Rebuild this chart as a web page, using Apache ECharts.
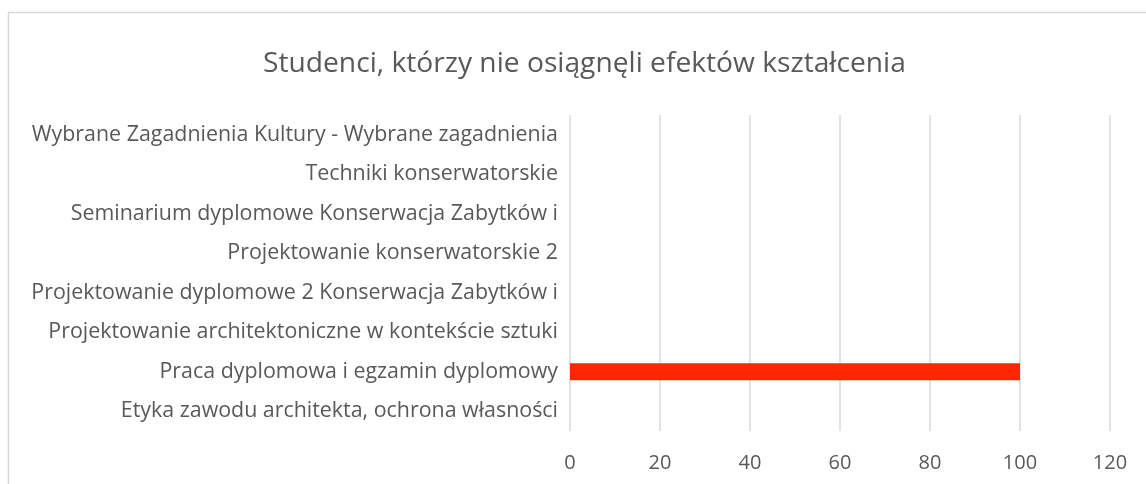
<!DOCTYPE html>
<html>
<head>
<meta charset="utf-8">
<script src="https://cdn.jsdelivr.net/npm/echarts@6/dist/echarts.min.js"></script>
<style>
  html, body { margin: 0; padding: 0; background: #fff; }
  #chart { width: 1146px; height: 484px; }
</style>
</head>
<body>
<div id="chart"></div>
<script>
// kategorie od dołu do góry
var categories = [
    'Etyka zawodu architekta, ochrona własności',
    'Praca dyplomowa i egzamin dyplomowy',
    'Projektowanie architektoniczne w kontekście sztuki',
    'Projektowanie dyplomowe 2 Konserwacja Zabytków i',
    'Projektowanie konserwatorskie 2',
    'Seminarium dyplomowe Konserwacja Zabytków i',
    'Techniki konserwatorskie',
    'Wybrane Zagadnienia Kultury - Wybrane zagadnienia'
];
var values = [0, 100, 0, 0, 0, 0, 0, 0];
var xTicks = [0, 20, 40, 60, 80, 100, 120];

var chart = echarts.init(document.getElementById('chart'));
var font = '"Open Sans", "Noto Sans", sans-serif';

var option = {
    animation: false,
    textStyle: { fontFamily: font },
    title: {
        text: 'Studenci, którzy nie osiągnęli efektów kształcenia',
        left: 258,
        top: 45,
        textStyle: { fontFamily: font, fontSize: 28.2, fontWeight: 'normal', color: '#595959' }
    },
    graphic: [{
        type: 'rect',
        shape: { x: 8.5, y: 12.5, width: 1200, height: 600 },
        style: { fill: 'none', stroke: '#d9d9d9', lineWidth: 1.5 },
        silent: true
    }],
    grid: { left: 570, top: 115, width: 540, height: 316 },
    xAxis: {
        type: 'value',
        min: xTicks[0],
        max: xTicks[xTicks.length - 1],
        interval: xTicks[1] - xTicks[0],
        axisLine: { show: false },
        axisTick: { show: false },
        axisLabel: { color: '#595959', fontSize: 20, margin: 22 },
        splitLine: { lineStyle: { color: '#d9d9d9', width: 1.5 } }
    },
    yAxis: {
        type: 'category',
        data: categories,
        axisLine: { show: false },
        axisTick: { show: false },
        axisLabel: { color: '#595959', fontSize: 21.4, margin: 12 }
    },
    series: [{
        type: 'bar',
        data: values,
        barWidth: 17,
        itemStyle: { color: '#ff2600' }
    }]
};

chart.setOption(option);
</script>
</body>
</html>
